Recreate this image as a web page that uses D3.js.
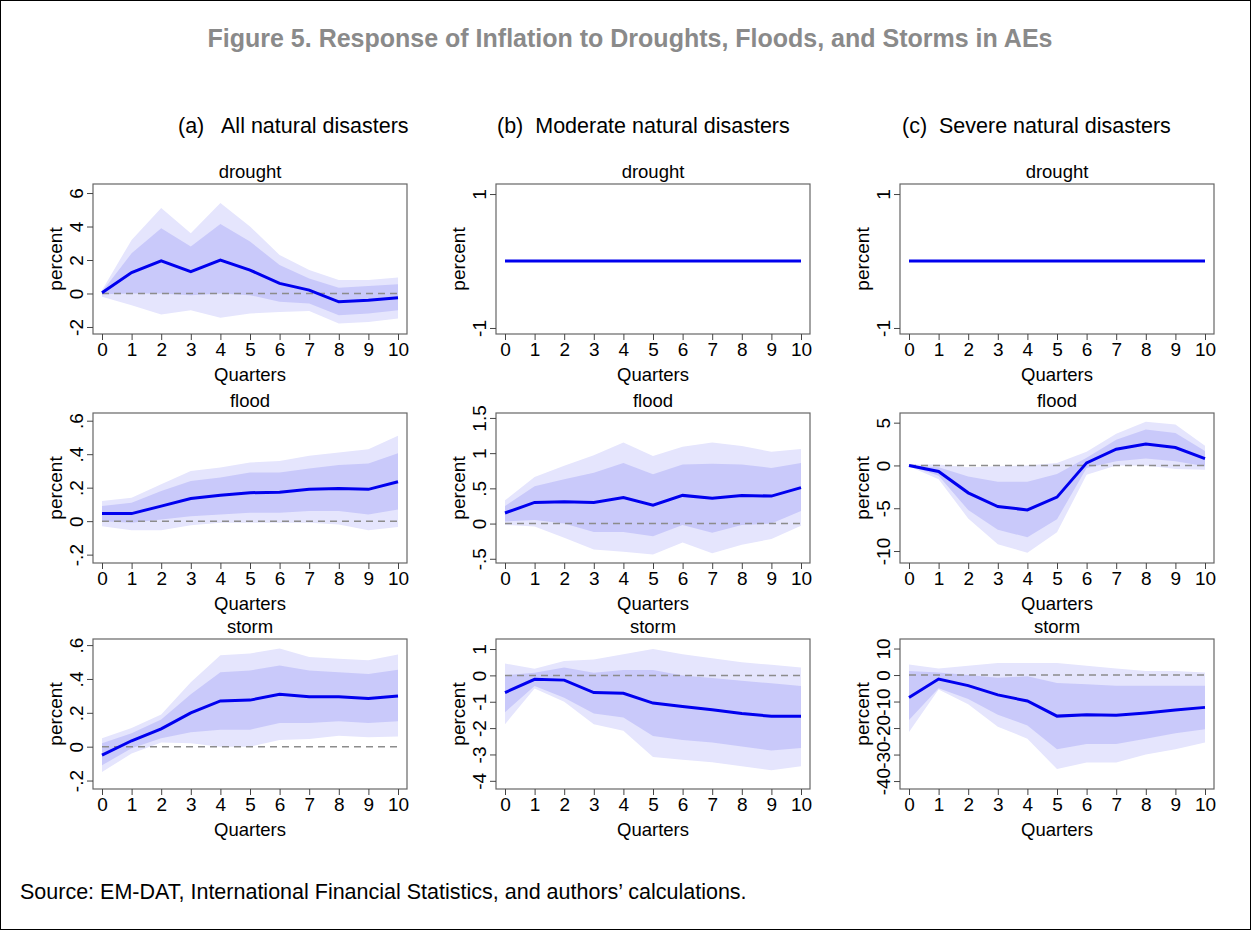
<!DOCTYPE html>
<html><head><meta charset="utf-8">
<script src="https://cdn.jsdelivr.net/npm/d3@7"></script>
<style>body{margin:0;background:#fff}svg{font-family:Arial,"Liberation Sans",sans-serif}</style>
</head><body><svg id="c" width="1251" height="930"></svg>
<script>
const quarters = d3.range(0, 11);

// [point, inner lo, inner hi, outer lo, outer hi]
const droughtAll = [
  [0.05,1.25,1.95,1.3,2.0,1.4,0.6,0.2,-0.5,-0.4,-0.25],
  [-0.05,0,0,-0.1,0,-0.1,-0.5,-0.6,-1.3,-1.2,-1.0],
  [0.1,2.4,3.9,2.8,4.15,3.1,1.7,0.9,0.35,0.45,0.55],
  [-0.2,-0.7,-1.25,-1.0,-1.45,-1.2,-1.1,-1.05,-1.8,-1.7,-1.5],
  [0.2,3.2,5.1,3.6,5.4,4.0,2.3,1.4,0.8,0.8,0.95]];
const droughtZero = [[0,0,0,0,0,0,0,0,0,0,0]];
const floodAll = [
  [.045,.045,.09,.135,.155,.17,.172,.19,.195,.19,.235],
  [0,-.01,.01,.03,.04,.05,.05,.06,.06,.04,.07],
  [.09,.11,.18,.24,.26,.29,.29,.315,.335,.345,.405],
  [-.03,-.055,-.055,-.025,-.01,-.01,-.01,-.01,-.02,-.055,-.035],
  [.12,.14,.22,.30,.32,.35,.36,.39,.41,.43,.51]];
const floodMod = [
  [.15,.30,.31,.30,.37,.26,.40,.36,.40,.39,.51],
  [.03,.05,0,-.12,-.12,-.18,-.02,-.13,-.02,0,.18],
  [.25,.53,.63,.72,.86,.70,.84,.85,.84,.79,.86],
  [-.02,-.04,-.2,-.37,-.4,-.44,-.27,-.42,-.3,-.22,-.03],
  [.33,.66,.82,.97,1.15,.96,1.09,1.15,1.1,1.02,1.06]];
const floodSev = [
  [0,-.7,-3.2,-4.8,-5.2,-3.7,.3,1.9,2.5,2.1,.8],
  [0,-1.2,-5.2,-7.5,-8.4,-6.3,-.3,.5,.8,.5,-.1],
  [0,-.2,-1.3,-1.9,-1.9,-1.0,.9,3.0,4.2,3.8,1.7],
  [-.1,-1.6,-6.2,-9.2,-10.2,-7.8,-1.1,0,0,-.4,-.5],
  [.1,.1,-.2,-.1,0,.3,1.6,3.7,5.1,4.8,2.3]];
const stormAll = [
  [-.05,.035,.105,.2,.27,.275,.31,.295,.295,.285,.3],
  [-.11,-.01,.05,.085,.10,.10,.14,.14,.15,.14,.15],
  [.02,.08,.16,.31,.44,.45,.48,.45,.44,.43,.455],
  [-.15,-.04,.025,.02,0,0,.04,.045,.065,.055,.06],
  [.05,.11,.19,.38,.54,.55,.58,.53,.52,.51,.545]];
const stormMod = [
  [-.65,-.15,-.18,-.65,-.68,-1.05,-1.18,-1.3,-1.45,-1.55,-1.55],
  [-1.4,-.4,-.85,-1.45,-1.6,-2.3,-2.45,-2.55,-2.7,-2.85,-2.75],
  [0,.1,.3,.1,.2,.2,0,-.1,-.2,-.3,-.4],
  [-1.85,-.5,-1.0,-1.85,-2.1,-3.1,-3.2,-3.3,-3.45,-3.6,-3.45],
  [.45,.25,.55,.6,.8,1.0,.8,.65,.5,.4,.3]];
const stormSev = [
  [-8.5,-1.5,-4,-7.5,-9.8,-15.5,-15,-15.2,-14.3,-13.2,-12.2],
  [-17,-5,-9,-15,-19,-28,-26,-26,-24,-22,-20.5],
  [1.5,1,0,-1,-.5,-3,-3.5,-4,-4,-4,-4],
  [-21.5,-5.5,-11,-19.5,-24,-35.5,-33,-33,-30,-28,-25.5],
  [4,2.5,3.5,4.5,4.5,4.5,3.5,2.5,1.5,1.5,1]];

const columnTitles = ["(a)   All natural disasters", "(b)  Moderate natural disasters", "(c)  Severe natural disasters"];
const panels = [
  {row:0,col:0,title:"drought",data:droughtAll,dom:[-2.42,6.54],ticks:[-2,0,2,4,6],lab:["-2","0","2","4","6"]},
  {row:0,col:1,title:"drought",data:droughtZero,dom:[-1.09,1.15],ticks:[-1,1],lab:["-1","1"]},
  {row:0,col:2,title:"drought",data:droughtZero,dom:[-1.09,1.15],ticks:[-1,1],lab:["-1","1"]},
  {row:1,col:0,title:"flood",data:floodAll,dom:[-.25,.646],ticks:[-.2,0,.2,.4,.6],lab:["-.2","0",".2",".4",".6"]},
  {row:1,col:1,title:"flood",data:floodMod,dom:[-.56,1.57],ticks:[-.5,0,.5,1,1.5],lab:["-.5","0",".5","1","1.5"]},
  {row:1,col:2,title:"flood",data:floodSev,dom:[-11.4,6.13],ticks:[-10,-5,0,5],lab:["-10","-5","0","5"]},
  {row:2,col:0,title:"storm",data:stormAll,dom:[-.25,.636],ticks:[-.2,0,.2,.4,.6],lab:["-.2","0",".2",".4",".6"]},
  {row:2,col:1,title:"storm",data:stormMod,dom:[-4.31,1.38],ticks:[-4,-3,-2,-1,0,1],lab:["-4","-3","-2","-1","0","1"]},
  {row:2,col:2,title:"storm",data:stormSev,dom:[-43,13.6],ticks:[-40,-30,-20,-10,0,10],lab:["-40","-30","-20","-10","0","10"]}
];

const svg = d3.select("#c");
svg.append("rect").attr("x",0.5).attr("y",0.5).attr("width",1250).attr("height",929)
  .attr("fill","none").attr("stroke","#000");
svg.append("text").attr("x",630).attr("y",47).attr("text-anchor","middle")
  .attr("font-size",25).attr("font-weight","bold").attr("fill","#8a8a8a")
  .text("Figure 5. Response of Inflation to Droughts, Floods, and Storms in AEs");
const colTitleX = [178, 497, 902];
columnTitles.forEach((t,i) => svg.append("text").attr("x",colTitleX[i]).attr("y",133)
  .attr("font-size",21.5).attr("fill","#000").style("white-space","pre").text(t));
svg.append("text").attr("x",20).attr("y",899).attr("font-size",21.5).text("Source: EM-DAT, International Financial Statistics, and authors\u2019 calculations.");

const colX = [93, 496, 900], rowY = [184, 413, 639], W = 314, H = 150;

panels.forEach(p => {
  const g = svg.append("g").attr("transform",`translate(${colX[p.col]},${rowY[p.row]})`);
  const x = d3.scaleLinear().domain([0,10]).range([9,305]);
  const y = d3.scaleLinear().domain(p.dom).range([H,0]);
  const area = (lo,hi) => d3.area().x((d,i)=>x(quarters[i])).y0((d,i)=>y(p.data[lo][i])).y1((d,i)=>y(p.data[hi][i]));
  if (p.data.length > 1) {
    g.append("path").datum(quarters).attr("d",area(3,4)).attr("fill","#e5e5fd");
    g.append("path").datum(quarters).attr("d",area(1,2)).attr("fill","#c9c9fa");
  }
  g.append("line").attr("x1",x(0)).attr("x2",x(10)).attr("y1",y(0)).attr("y2",y(0))
    .attr("stroke","#8c8c8c").attr("stroke-width",1.5).attr("stroke-dasharray","7,5");
  g.append("path").datum(p.data[0]).attr("fill","none").attr("stroke","#0000ee").attr("stroke-width",3)
    .attr("d",d3.line().x((d,i)=>x(quarters[i])).y(d=>y(d)));
  g.append("rect").attr("width",W).attr("height",H).attr("fill","none").attr("stroke","#666").attr("stroke-width",1.2);

  const xa = g.append("g").attr("transform",`translate(0,${H})`)
    .call(d3.axisBottom(x).tickValues(quarters).tickSize(6).tickPadding(3).tickFormat(d3.format("d")));
  xa.select(".domain").remove();
  xa.selectAll("line").attr("stroke","#444");
  xa.selectAll("text").attr("font-size",19).attr("fill","#000");
  const ya = g.append("g").call(d3.axisLeft(y).tickValues(p.ticks).tickSize(6).tickFormat((d,i)=>p.lab[i]));
  ya.select(".domain").remove();
  ya.selectAll("line").attr("stroke","#444");
  ya.selectAll("text").attr("font-size",19).attr("fill","#000")
    .attr("x",null).attr("dy",null).attr("text-anchor","middle")
    .attr("transform","translate(-10,0) rotate(-90)");

  g.append("text").attr("x",W/2).attr("y",-6).attr("text-anchor","middle").attr("font-size",18.5).text(p.title);
  g.append("text").attr("x",W/2).attr("y",H+47).attr("text-anchor","middle").attr("font-size",18.5).text("Quarters");
  g.append("text").attr("transform",`translate(-31,${H/2}) rotate(-90)`).attr("text-anchor","middle")
    .attr("font-size",19).text("percent");
});
</script></body></html>
